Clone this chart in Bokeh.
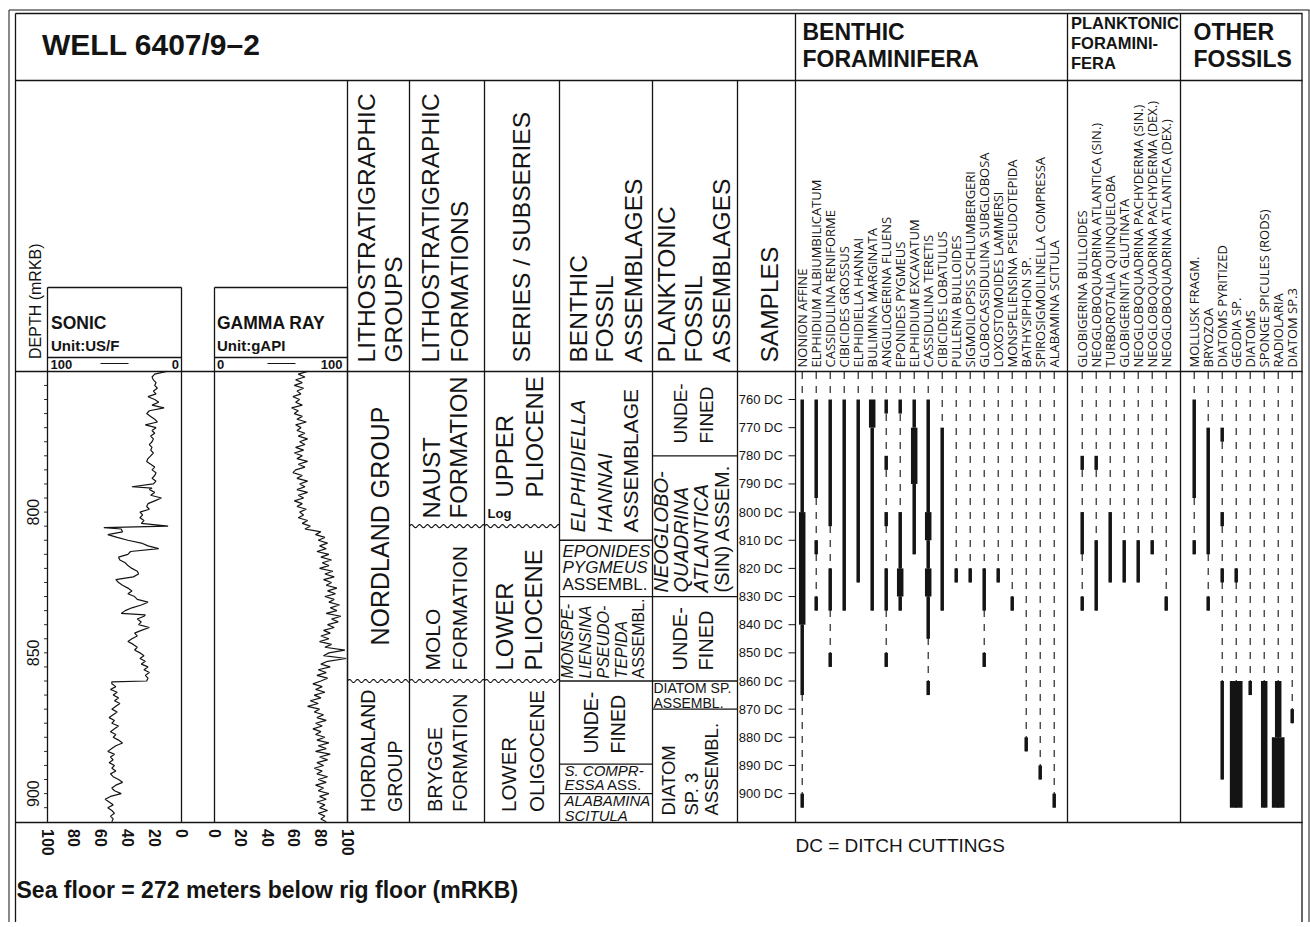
import math
import numpy as np
from bokeh.plotting import figure
from bokeh.models import Range1d
from bokeh.core.properties import value
from bokeh.embed import file_html
from bokeh.resources import INLINE

# ------------------------------------------------------------------ data
sample_depths = [760, 770, 780, 790, 800, 810, 820, 830, 840, 850, 860, 870, 880, 890, 900]
depth_labels = [800, 850, 900]
depth_minor_ticks = [755, 760, 765, 770, 775, 780, 785, 790, 795, 800, 805, 810, 815, 820,
                     825, 830, 835, 840, 845, 850, 855, 860, 865, 870, 875, 880, 885, 890,
                     895, 900, 905]
sonic_ticks = [100, 80, 60, 40, 20, 0]
gamma_ticks = [0, 20, 40, 60, 80, 100]

sonic_depth = [
    750, 751, 752, 753, 754, 755, 756, 757, 758, 759,
    760, 761, 762, 763, 764, 765, 766, 767, 768, 769,
    770, 771, 772, 773, 774, 775, 776, 777, 778, 779,
    780, 781, 782, 783, 784, 785, 786, 787, 788, 789,
    790, 791, 791.5, 792, 793, 794, 795, 796, 797, 798, 799,
    800, 801, 802, 803, 804, 805, 805.5, 806, 807, 808, 809,
    810, 811, 812, 813, 814, 815, 816, 817, 818, 819,
    820, 821, 822, 823, 824, 825, 826, 827, 828, 829,
    830, 831, 832, 833, 834, 835, 836, 836.5, 837, 838, 839,
    840, 841, 842, 843, 844, 845, 846, 847, 848, 849,
    850, 851, 852, 853, 854, 855, 856, 857, 858, 859,
    860, 860.3, 861, 862, 863, 864, 865, 866, 867, 868, 869,
    870, 871, 872, 873, 874, 875, 876, 877, 878, 879,
    880, 881, 882, 883, 884, 885, 886, 887, 888, 889,
    890, 891, 892, 893, 894, 895, 896, 897, 898, 899,
    900, 901, 902, 903, 904, 905, 906, 907, 908, 909, 910]
sonic_usf = [
    11, 20, 22, 21, 19, 20, 18, 21, 19, 25,
    20, 17, 22, 13, 24, 26, 23, 20, 18, 27,
    19, 22, 20, 23, 21, 22, 24, 22, 23, 21,
    23, 25, 26, 23, 20, 22, 19, 20, 22, 19,
    21, 37, 22, 24, 20, 23, 15, 20, 25, 26, 24,
    31, 29, 31, 28, 30, 10, 58, 45, 44, 55, 48,
    40, 30, 25, 17, 38, 40, 47, 46, 42, 40,
    37, 33, 32, 36, 49, 47, 44, 40, 37, 40,
    35, 33, 25, 30, 37, 42, 45, 27, 28, 33, 30,
    32, 24, 30, 35, 33, 37, 40, 36, 33, 35,
    31, 28, 31, 27, 30, 25, 28, 24, 27, 25,
    26, 52, 52, 49, 53, 48, 51, 47, 50, 46, 49,
    52, 48, 51, 54, 50, 52, 47, 50, 53, 49,
    51, 47, 44, 49, 52, 55, 50, 53, 51, 54,
    50, 52, 49, 53, 51, 47, 44, 49, 52, 50,
    45, 53, 57, 54, 51, 55, 52, 50, 53, 51, 52]

gamma_depth = [
    750, 751, 752, 753, 754, 755, 756, 757, 758, 759,
    760, 761, 762, 763, 764, 765, 766, 767, 768, 769,
    770, 771, 772, 773, 774, 775, 776, 777, 778, 779,
    780, 781, 782, 783, 784, 785, 786, 787, 788, 789,
    790, 791, 792, 793, 794, 795, 796, 797, 798, 799,
    800, 801, 802, 803, 804, 805, 806, 806.5, 807, 808, 809,
    810, 811, 812, 813, 814, 815, 816, 817, 818, 819,
    820, 821, 822, 823, 824, 825, 826, 827, 828, 829,
    830, 831, 832, 833, 834, 835, 836, 837, 838, 839,
    840, 841, 842, 843, 844, 845, 846, 847, 848, 849,
    850, 851, 852, 853, 854, 855, 856, 857, 858, 859,
    860, 861, 862, 863, 864, 865, 866, 867, 868, 869,
    870, 871, 872, 873, 874, 875, 876, 877, 878, 879,
    880, 881, 882, 883, 884, 885, 886, 887, 888, 889,
    890, 891, 892, 893, 894, 895, 896, 897, 898, 899,
    900, 901, 902, 903, 904, 905, 906, 907, 908, 909, 910]
gamma_api = [
    70, 63, 68, 61, 66, 60, 67, 62, 65, 59,
    64, 61, 66, 58, 63, 60, 66, 62, 69, 61,
    65, 62, 68, 63, 70, 64, 68, 61, 67, 60,
    66, 62, 70, 63, 68, 61, 59, 66, 62, 70,
    64, 68, 62, 70, 63, 67, 60, 66, 62, 69,
    64, 67, 63, 70, 66, 72, 68, 74, 80, 76, 83,
    78, 85, 79, 84, 77, 86, 80, 88, 81, 86,
    79, 89, 83, 90, 82, 88, 84, 92, 85, 91,
    83, 90, 86, 94, 87, 92, 84, 95, 88, 93,
    85, 90, 82, 87, 80, 86, 79, 88, 83, 98,
    86, 82, 99, 85, 80, 87, 78, 84, 77, 85,
    80, 74, 81, 76, 83, 75, 80, 72, 78, 70,
    79, 75, 82, 77, 84, 76, 81, 74, 80, 76,
    83, 77, 86, 78, 84, 76, 87, 79, 85, 77,
    82, 75, 81, 77, 85, 78, 84, 76, 82, 78,
    86, 79, 84, 77, 83, 79, 85, 78, 83, 80, 84]

benthic_species = ["NONION AFFINE", "ELPHIDIUM ALBIUMBILICATUM", "CASSIDULINA RENIFORME",
                   "CIBICIDES GROSSUS", "ELPHIDIELLA HANNAI", "BULIMINA MARGINATA",
                   "ANGULOGERINA FLUENS", "EPONIDES PYGMEUS", "ELPHIDIUM EXCAVATUM",
                   "CASSIDULINA TERETIS", "CIBICIDES LOBATULUS", "PULLENIA BULLOIDES",
                   "SIGMOILOPSIS SCHLUMBERGERI", "GLOBOCASSIDULINA SUBGLOBOSA",
                   "LOXOSTOMOIDES LAMMERSI", "MONSPELIENSINA PSEUDOTEPIDA", "BATHYSIPHON SP.",
                   "SPIROSIGMOILINELLA COMPRESSA", "ALABAMINA SCITULA"]
# (species index, top depth, base depth, abundance: r=rare, c=common, a=abundant)
benthic_ranges = [
    (0, 760, 800, "r"), (0, 800, 840, "c"), (0, 840, 865, "r"), (0, 900, 905, "r"),
    (1, 760, 795, "r"), (1, 810, 815, "r"), (1, 830, 835, "r"),
    (2, 760, 805, "r"), (2, 820, 835, "r"), (2, 850, 855, "r"),
    (3, 760, 835, "r"),
    (4, 760, 825, "r"),
    (5, 760, 770, "c"), (5, 770, 835, "r"),
    (6, 760, 765, "r"), (6, 780, 785, "r"), (6, 800, 805, "r"), (6, 820, 835, "r"), (6, 850, 855, "r"),
    (7, 760, 765, "r"), (7, 800, 820, "r"), (7, 820, 830, "c"), (7, 830, 835, "r"),
    (8, 760, 770, "r"), (8, 770, 790, "c"), (8, 790, 815, "r"),
    (9, 760, 800, "r"), (9, 800, 810, "c"), (9, 810, 820, "r"), (9, 820, 830, "c"),
    (9, 830, 845, "r"), (9, 860, 865, "r"),
    (10, 770, 835, "r"),
    (11, 820, 825, "r"),
    (12, 820, 825, "r"),
    (13, 820, 835, "r"), (13, 850, 855, "r"),
    (14, 820, 825, "r"),
    (15, 830, 835, "r"),
    (16, 880, 885, "r"),
    (17, 890, 895, "r"),
    (18, 900, 905, "r")]

planktonic_species = ["GLOBIGERINA BULLOIDES", "NEOGLOBOQUADRINA ATLANTICA (SIN.)",
                      "TURBOROTALIA QUINQUELOBA", "GLOBIGERINITA GLUTINATA",
                      "NEOGLOBOQUADRINA PACHYDERMA (SIN.)", "NEOGLOBOQUADRINA PACHYDERMA (DEX.)",
                      "NEOGLOBOQUADRINA ATLANTICA (DEX.)"]
planktonic_ranges = [
    (0, 780, 785, "r"), (0, 800, 815, "r"), (0, 830, 835, "r"),
    (1, 780, 785, "r"), (1, 810, 835, "r"),
    (2, 800, 825, "r"),
    (3, 810, 825, "r"),
    (4, 810, 825, "r"),
    (5, 810, 815, "r"),
    (6, 830, 835, "r")]

other_species = ["MOLLUSK FRAGM.", "BRYOZOA", "DIATOMS PYRITIZED", "GEODIA SP.", "DIATOMS",
                 "SPONGE SPICULES (RODS)", "RADIOLARIA", "DIATOM SP.3"]
other_ranges = [
    (0, 760, 795, "r"), (0, 810, 815, "r"),
    (1, 770, 815, "r"), (1, 830, 835, "r"),
    (2, 770, 775, "r"), (2, 800, 805, "r"), (2, 820, 825, "r"), (2, 860, 895, "r"),
    (3, 820, 825, "r"), (3, 860, 905, "a"),
    (4, 860, 865, "r"),
    (5, 860, 905, "c"),
    (6, 860, 880, "c"), (6, 880, 905, "a"),
    (7, 870, 875, "r")]

group_bounds = [860]
formation_bounds = [805, 860]
series_bounds = [805, 860]
benthic_assemblage_bounds = [810, 830, 860, 889.5, 900]
planktonic_assemblage_bounds = [780, 830, 860, 870]

# ------------------------------------------------------------------ layout
INK = "#141414"
SANS = "Liberation Sans"
SPEC = "Open Sans"
PX_M = 2.815          # pixels per metre
Y760 = 399.0          # page y of 760 m
TOP, BOT = 0, 922     # page y covered by the figure
LEFT, RIGHT = 0, 1310
CAP = 0.36            # half cap height / font size


def d_of(y):
    return 760 + (y - Y760) / PX_M


def lin(x, xa, xb, va, vb):
    return va + (x - xa) * (vb - va) / (xb - xa)


p = figure(width=RIGHT - LEFT, height=BOT - TOP,
           x_range=Range1d(LEFT, RIGHT), y_range=Range1d(BOT, TOP),
           output_backend="svg", toolbar_location=None, min_border=0,
           x_axis_type=None, y_axis_type=None, outline_line_color=None)
p.background_fill_color = "white"
p.border_fill_color = "white"
p.extra_y_ranges = {"depth": Range1d(start=d_of(BOT), end=d_of(TOP))}
SON_L, SON_R, GAM_L, GAM_R = 47, 181, 214, 347
p.extra_x_ranges = {
    "sonic": Range1d(start=lin(LEFT, SON_L, SON_R, 100, 0), end=lin(RIGHT, SON_L, SON_R, 100, 0)),
    "gamma": Range1d(start=lin(LEFT, GAM_L, GAM_R, 0, 100), end=lin(RIGHT, GAM_L, GAM_R, 0, 100)),
}

# ---- frame lines (page pixel layout)
segs = []


def hl(y, x0, x1, w=1.3):
    segs.append((x0, y, x1, y, w))


def vl(x, y0, y1, w=1.3):
    segs.append((x, y0, x, y1, w))


vl(8.5, 9.5, BOT, 1.0); hl(9.5, 8.5, 1309, 1.0); vl(1308.5, 9.5, BOT, 1.0)
vl(15, 13, BOT); hl(13, 15, 1302)
vl(1301.5, 13, BOT)
hl(80, 15, 1302); hl(371, 15, 1302); hl(822, 15, 1302)
for x in [347, 409, 484, 559, 652, 737]:
    vl(x, 80, 822)
for x in [795, 1067, 1180]:
    vl(x, 13, 822)
for a, b in [(SON_L, SON_R), (GAM_L, GAM_R)]:
    hl(287, a, b); hl(357, a, b)
    vl(a, 287, 822); vl(b, 287, 822)
hl(363, 100, 128, 1.0); hl(363, 267, 295, 1.0)

for w in sorted(set(s[4] for s in segs)):
    ss = [s for s in segs if s[4] == w]
    p.segment(x0=[s[0] for s in ss], y0=[s[1] for s in ss], x1=[s[2] for s in ss],
              y1=[s[3] for s in ss], line_width=w, line_color=INK)

UP = math.pi / 2
DOWN = -math.pi / 2


def T(x, y, s, size, style="normal", angle=0.0, align="left", font=SANS,
      xr=None, yr=None, xoff=0.0, centred=False):
    """(x, y) is the measured text baseline position; text is anchored at cap middle."""
    sh = 0.0 if centred else CAP * size
    if angle == 0:
        y = y - sh
    elif angle > 0:
        if xr:
            xoff -= sh
        else:
            x = x - sh
    else:
        if xr:
            xoff += sh
        else:
            x = x + sh
    kw = {}
    if xr:
        kw["x_range_name"] = xr
    if yr:
        kw["y_range_name"] = yr
    p.text(x=[x], y=[y], text=[s], angle=angle, x_offset=xoff,
           text_font=value(font), text_font_size=f"{size}px", text_font_style=style,
           text_align=align, text_baseline="middle", text_color=INK, **kw)


# ---- headers
T(41.5, 55, "WELL 6407/9\u20132", 30, "bold")
T(802, 40, "BENTHIC", 23, "bold"); T(802, 67, "FORAMINIFERA", 23, "bold")
T(1070.5, 28, "PLANKTONIC", 16.5, "bold"); T(1070.5, 48.5, "FORAMINI-", 16.5, "bold")
T(1070.5, 68, "FERA", 16.5, "bold")
T(1193, 40, "OTHER", 23, "bold"); T(1193, 67, "FOSSILS", 23, "bold")

T(40.5, 358.5, "DEPTH (mRKB)", 16, angle=UP)
T(50.5, 328.5, "SONIC", 17.5, "bold"); T(50.5, 350, "Unit:US/F", 15, "bold")
T(50, 368.5, "100", 13, "bold"); T(178.5, 368.5, "0", 13, "bold", align="right")
T(216.5, 328.5, "GAMMA RAY", 17.5, "bold"); T(216.5, 350, "Unit:gAPI", 15, "bold")
T(216.5, 368.5, "0", 13, "bold"); T(342, 368.5, "100", 13, "bold", align="right")

for x, s in [(375, "LITHOSTRATIGRAPHIC"), (402, "GROUPS"), (439, "LITHOSTRATIGRAPHIC"),
             (468, "FORMATIONS"), (530, "SERIES / SUBSERIES"), (587, "BENTHIC"),
             (613, "FOSSIL"), (642, "ASSEMBLAGES"), (675, "PLANKTONIC"), (702, "FOSSIL"),
             (730, "ASSEMBLAGES"), (778, "SAMPLES")]:
    T(x, 362, s, 24.5, angle=UP)

# ---- stratigraphic unit labels (x baseline, y start, text, size, style)
unit_labels = [
    (388, 645, "NORDLAND GROUP", 25, "normal"),
    (375, 811.5, "HORDALAND", 19.5, "normal"), (402, 811.5, "GROUP", 19.5, "normal"),
    (440, 518, "NAUST", 24, "normal"), (467, 518, "FORMATION", 24, "normal"),
    (440, 670, "MOLO", 21, "normal"), (467, 670, "FORMATION", 21, "normal"),
    (441.5, 811.5, "BRYGGE", 20, "normal"), (467, 811.5, "FORMATION", 20, "normal"),
    (513, 497, "UPPER", 24, "normal"), (543, 497, "PLIOCENE", 24, "normal"),
    (513, 670, "LOWER", 24, "normal"), (542, 670, "PLIOCENE", 24, "normal"),
    (515, 811.5, "LOWER", 20.5, "normal"), (543, 811.5, "OLIGOCENE", 20.5, "normal"),
    (585, 532, "ELPHIDIELLA", 21, "italic"), (612, 532, "HANNAI", 21, "italic"),
    (638, 532, "ASSEMBLAGE", 21, "normal"),
    (573, 678, "MONSPE-", 16, "italic"), (591, 678, "LIENSINA", 16, "italic"),
    (609, 678, "PSEUDO-", 16, "italic"), (627, 678, "TEPIDA", 16, "italic"),
    (644, 678, "ASSEMBL.", 16, "normal"),
    (598, 753, "UNDE-", 19.5, "normal"), (625, 753, "FINED", 19.5, "normal"),
    (687, 443, "UNDE-", 19, "normal"), (713, 443, "FINED", 19, "normal"),
    (668, 592, "NEOGLOBO-", 20, "italic"), (688, 592, "QUADRINA", 20, "italic"),
    (708, 592, "ATLANTICA", 20, "italic"), (729, 592, "(SIN) ASSEM.", 20, "normal"),
    (687, 670, "UNDE-", 20, "normal"), (713, 670, "FINED", 20, "normal"),
    (675, 815, "DIATOM", 18.5, "normal"), (698, 815, "SP. 3", 18.5, "normal"),
    (718, 815, "ASSEMBL.", 18.5, "normal"),
]
for x, y, s, size, st in unit_labels:
    T(x, y, s, size, st, angle=UP)

flat_labels = [
    (562, 557, "EPONIDES", 17, "italic"), (562, 573, "PYGMEUS", 17, "italic"),
    (562, 590, "ASSEMBL.", 17, "normal"),
    (564, 775.5, "S. COMPR-", 15, "italic"), (564, 789, "ESSA", 15, "italic"),
    (606.5, 789, "ASS.", 15, "normal"),
    (564, 805.5, "ALABAMINA", 15, "italic"), (564, 820, "SCITULA", 15, "italic"),
    (653, 693, "DIATOM SP.", 14, "normal"), (653, 708, "ASSEMBL.", 14, "normal"),
    (487, 518, "Log", 13, "bold"),
]
for x, y, s, size, st in flat_labels:
    T(x, y, s, size, st)


# ---- unit boundaries
def wavy(depth, x0, x1):
    xs = np.arange(x0, x1 + 0.01, 1.0)
    off = 1.6 * np.sin(2 * np.pi * (xs - x0) / 8.0)
    p.line(x=xs, y=depth - off / PX_M, y_range_name="depth", line_color=INK, line_width=1.1)


for d in group_bounds:
    wavy(d, 347, 409)
for d in formation_bounds:
    wavy(d, 409, 484)
for d in series_bounds:
    wavy(d, 484, 559)
p.segment(x0=[559] * len(benthic_assemblage_bounds), x1=[652] * len(benthic_assemblage_bounds),
          y0=benthic_assemblage_bounds, y1=benthic_assemblage_bounds,
          y_range_name="depth", line_color=INK, line_width=1.3)
p.segment(x0=[652] * len(planktonic_assemblage_bounds), x1=[737] * len(planktonic_assemblage_bounds),
          y0=planktonic_assemblage_bounds, y1=planktonic_assemblage_bounds,
          y_range_name="depth", line_color=INK, line_width=1.3)

# ---- depth axis (drawn on the sonic track edge)
p.segment(x0=[43.5] * len(depth_minor_ticks), x1=[SON_L] * len(depth_minor_ticks),
          y0=depth_minor_ticks, y1=depth_minor_ticks, y_range_name="depth",
          line_color=INK, line_width=0.9)
for d in depth_labels:
    T(38.5, d, str(d), 16, angle=UP, align="center", yr="depth")

# ---- samples
p.segment(x0=[788] * len(sample_depths), x1=[795] * len(sample_depths),
          y0=sample_depths, y1=sample_depths, y_range_name="depth",
          line_color=INK, line_width=1.0)
for d in sample_depths:
    T(786, d, f"{d}  DC", 13, align="right", yr="depth", centred=True)

# ---- logs
p.line(x=sonic_usf, y=sonic_depth, x_range_name="sonic", y_range_name="depth",
       line_color=INK, line_width=1.2)
p.line(x=gamma_api, y=gamma_depth, x_range_name="gamma", y_range_name="depth",
       line_color=INK, line_width=1.2)
for v in sonic_ticks:
    T(v, 828.5, str(v), 16, "bold", angle=DOWN, xr="sonic", centred=True)
for v in gamma_ticks:
    T(v, 828.5, str(v), 16, "bold", angle=DOWN, xr="gamma", centred=True)

# ---- range charts
WID = {"r": 3.5, "c": 6.5, "a": 12.7}


def range_chart(species, ranges, x0):
    xs = [x0 + 14 * i for i in range(len(species))]
    deepest = {}
    for i, t, b, a in ranges:
        deepest[i] = max(deepest.get(i, 0), b)
    idx = sorted(deepest)
    p.segment(x0=[xs[i] for i in idx], x1=[xs[i] for i in idx], y0=[d_of(371.5)] * len(idx),
              y1=[deepest[i] for i in idx], y_range_name="depth", line_color=INK,
              line_width=1.1, line_dash="7 7")
    for code, w in WID.items():
        sel = [r for r in ranges if r[3] == code]
        if not sel:
            continue
        p.segment(x0=[xs[r[0]] for r in sel], x1=[xs[r[0]] for r in sel],
                  y0=[r[1] for r in sel], y1=[r[2] for r in sel], y_range_name="depth",
                  line_color=INK, line_width=w, line_cap="butt")
    for i, s in enumerate(species):
        T(xs[i], 367, s, 13, angle=UP, font=SPEC, centred=True)


range_chart(benthic_species, benthic_ranges, 801.7)
range_chart(planktonic_species, planktonic_ranges, 1081.7)
range_chart(other_species, other_ranges, 1193.7)

# ---- footer
T(795, 852, "DC = DITCH CUTTINGS", 19)
T(16, 898, "Sea floor = 272 meters below rig floor (mRKB)", 23, "bold")

open("out.html", "w").write(file_html(p, INLINE))
